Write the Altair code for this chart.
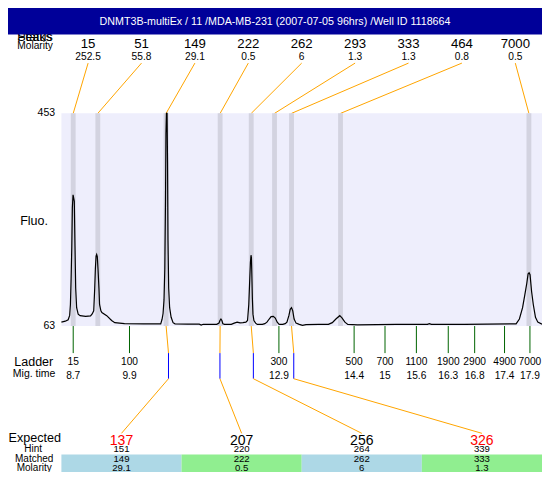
import altair as alt
import pandas as pd

# ---------------- data ----------------
title_text = "DNMT3B-multiEx / 11 /MDA-MB-231 (2007-07-05 96hrs) /Well ID 1118664"

peak_sizes = [15, 51, 149, 222, 262, 293, 333, 464, 7000]
peak_molarity = [252.5, 55.8, 29.1, 0.5, 6, 1.3, 1.3, 0.8, 0.5]
peak_times = [8.740, 9.234, 10.605, 11.690, 12.314, 12.782, 13.123, 14.107, 17.889]

ladder_sizes = [15, 100, 300, 500, 700, 1100, 1900, 2900, 4900, 7000]
ladder_times = [8.74, 9.87, 12.87, 14.38, 15.0, 15.63, 16.27, 16.8, 17.4, 17.91]

expected_sizes = [137, 207, 256, 326]
expected_status = ["off", "ok", "ok", "off"]
hint_sizes = [151, 220, 264, 339]
hint_times = [10.653, 11.686, 12.357, 13.168]
matched_sizes = [149, 222, 262, 333]
matched_molarity = [29.1, 0.5, 6, 1.3]

trace_time = [8.503, 8.581, 8.639, 8.669, 8.684, 8.698, 8.712, 8.723, 8.737, 8.762,
              8.776, 8.790, 8.809, 8.840, 8.879, 8.990, 9.088, 9.121, 9.152, 9.172,
              9.185, 9.199, 9.211, 9.224, 9.238, 9.257, 9.269, 9.296, 9.316, 9.413,
              9.511, 9.575, 9.770, 10.160, 10.497, 10.524, 10.544, 10.563, 10.579, 10.593,
              10.602, 10.612, 10.624, 10.634, 10.643, 10.657, 10.676, 10.706, 10.745, 10.784,
              11.037, 11.271, 11.310, 11.349, 11.622, 11.667, 11.686, 11.706, 11.725, 11.745,
              11.778, 11.914, 11.973, 12.031, 12.090, 12.148, 12.207, 12.240, 12.265, 12.285,
              12.298, 12.310, 12.318, 12.324, 12.337, 12.349, 12.368, 12.402, 12.435, 12.538,
              12.587, 12.630, 12.675, 12.713, 12.758, 12.797, 12.836, 12.875, 12.947, 12.996,
              13.031, 13.070, 13.097, 13.123, 13.148, 13.175, 13.214, 13.279, 13.343, 13.415,
              13.669, 13.864, 13.942, 14.019, 14.092, 14.136, 14.195, 14.253, 14.448, 15.228,
              15.852, 15.891, 15.930, 16.593, 17.632, 17.698, 17.762, 17.807, 17.846, 17.873,
              17.893, 17.912, 17.943, 17.977, 18.021, 18.068, 18.152]
trace_fluo = [70.1, 71.9, 74.5, 82.5, 102.5, 149.9, 208.9, 279.8, 303.6, 291.7,
              208.9, 132.1, 96.7, 84.8, 82.0, 80.7, 81.6, 85.2, 90.8, 132.1,
              167.6, 191.2, 194.2, 190.1, 167.6, 132.1, 102.5, 90.8, 87.8, 82.0,
              73.1, 69.2, 67.4, 67.1, 67.1, 75.4, 86.0, 110.9, 167.6, 291.7,
              415.8, 453, 453, 362.6, 220.8, 132.1, 96.7, 79.0, 69.2, 67.1,
              66.5, 66.5, 64.8, 66.2, 66.0, 68.3, 73.1, 75.9, 73.1, 67.1,
              66.0, 66.0, 68.3, 70.1, 68.7, 69.2, 70.1, 73.1, 102.5, 149.9,
              179.5, 192.9, 188.3, 167.6, 114.4, 84.8, 73.1, 68.3, 66.0, 66.0,
              67.4, 70.1, 75.9, 80.2, 80.7, 77.7, 70.1, 66.0, 66.0, 67.4,
              70.1, 82.0, 93.7, 96.7, 90.8, 75.9, 68.3, 66.0, 64.2, 65.7,
              66.0, 66.0, 69.2, 76.3, 82.0, 78.1, 70.1, 66.0, 65.1, 66.0,
              66.0, 67.4, 66.0, 66.0, 67.1, 75.9, 96.7, 120.3, 141.0, 158.7,
              160.5, 157.0, 126.3, 102.5, 79.0, 70.1, 66.5]

fluo_ticks = [63, 453]
T_LEFT, T_RIGHT = 8.503, 18.152

# ---------------- layout ----------------
W, H = 534, 464
SX, SY = W / 550.0, H / 480.0
def px(p):
    return p * SX
def py(p):
    return p * SY

REG = "Liberation Sans, Arial, sans-serif"

span = T_RIGHT - T_LEFT
T0 = T_LEFT - 55.0 / 495.0 * span
xs = alt.Scale(domain=[T0, T_RIGHT], nice=False, zero=False)
ys = alt.Scale(domain=[63, 453], range=[py(329), py(109)], nice=False, zero=False)

def X(f):
    return alt.X(f, type="quantitative", scale=xs, axis=None)

n_p = len(peak_sizes)
peaks = pd.DataFrame({
    "size": peak_sizes, "mol": peak_molarity, "t": peak_times,
    "slot_t": [T_LEFT + (i + 0.5) * span / n_p for i in range(n_p)],
})
ladder = pd.DataFrame({"size": ladder_sizes, "t": ladder_times})
n_e = len(expected_sizes)
peak_lookup = dict(zip(peak_sizes, peak_times))
expd = pd.DataFrame({
    "exp": expected_sizes, "status": expected_status, "hint": hint_sizes,
    "hint_t": hint_times, "matched": matched_sizes, "mol": matched_molarity,
    "peak_t": [peak_lookup[m] for m in matched_sizes],
    "col_t": [T_LEFT + (j + 0.5) * span / n_e for j in range(n_e)],
    "col_l": [T_LEFT + j * span / n_e for j in range(n_e)],
    "col_r": [T_LEFT + (j + 1) * span / n_e for j in range(n_e)],
    "par": ["a" if j % 2 == 0 else "b" for j in range(n_e)],
})
trace = pd.DataFrame({"t": trace_time, "f": trace_fluo})
one = pd.DataFrame({"k": [0]})
frame = pd.DataFrame({"t0": [T_LEFT], "t1": [T_RIGHT], "f0": [63], "f1": [453]})

def label(text, x, y, size, align="left", baseline="alphabetic", color="black"):
    return alt.Chart(pd.DataFrame({"s": [text]})).mark_text(
        font=REG, fontSize=size, align=align, baseline=baseline, color=color
    ).encode(x=alt.value(px(x)), y=alt.value(py(y)), text="s:N")

def row_text(df, xf, y, field, fmt, size, **kw):
    return alt.Chart(df).mark_text(font=REG, fontSize=size, baseline="alphabetic", **kw).encode(
        x=X(xf), y=alt.value(py(y)), text=alt.Text(field, type="quantitative", format=fmt))

layers = []
# garbled header (overlapping words, partly under the title bar)
layers.append(label("Peaks", 9.5, 34.5, 12.5))
layers.append(label("Status", 9.5, 34.5, 12.5))
# title bar
layers.append(alt.Chart(one).mark_rect(color="#000099").encode(
    x=alt.value(0), x2=alt.value(W), y=alt.value(0), y2=alt.value(py(27.5))))
layers.append(label(title_text, 275, 17.5, 10.7, align="center", color="white"))
# top peak labels
layers.append(row_text(peaks, "slot_t", 41.4, "size", "d", 13.2))
layers.append(row_text(peaks, "slot_t", 53.3, "mol", ".1~f", 10.2))
layers.append(label("Molarity", 9.5, 42.5, 10.2))
# plot background
layers.append(alt.Chart(frame).mark_rect(color="#EEEEFC").encode(
    x=X("t0"), x2="t1", y=alt.Y("f1:Q", scale=ys, axis=None), y2="f0"))
# connectors top
layers.append(alt.Chart(peaks).mark_rule(color="orange", strokeWidth=1).encode(
    x=X("slot_t"), x2="t", y=alt.value(py(57)), y2=alt.value(py(109))))
# peak bands
layers.append(alt.Chart(peaks).mark_rule(color="#D3D3E0", strokeWidth=px(5)).encode(
    x=X("t"), y=alt.value(py(109)), y2=alt.value(py(329))))
# trace
layers.append(alt.Chart(trace).mark_line(color="black", strokeWidth=1.2).encode(
    x=X("t"), y=alt.Y("f:Q", scale=ys, axis=None)))
# y labels
layers.append(alt.Chart(pd.DataFrame({"v": fluo_ticks})).mark_text(
    font=REG, fontSize=10.5, align="right", baseline="middle").encode(
    x=alt.value(px(48.5)), y=alt.Y("v:Q", scale=ys, axis=None), text="v:N"))
layers.append(label("Fluo.", 12.5, 220, 12.5, baseline="middle"))
# ladder
layers.append(alt.Chart(ladder).mark_rule(color="#006400", strokeWidth=1).encode(
    x=X("t"), y=alt.value(py(329)), y2=alt.value(py(357))))
layers.append(row_text(ladder, "t", 369.5, "size", "d", 10.2))
layers.append(row_text(ladder, "t", 383.5, "t", ".1~f", 10.2))
layers.append(label("Ladder", 6.5, 370, 12.5))
layers.append(label("Mig. time", 5, 381.5, 10.5))
# matched connectors
layers.append(alt.Chart(expd).mark_rule(color="orange", strokeWidth=1).encode(
    x=X("peak_t"), x2="hint_t", y=alt.value(py(329)), y2=alt.value(py(357))))
layers.append(alt.Chart(expd).mark_rule(color="blue", strokeWidth=1).encode(
    x=X("hint_t"), y=alt.value(py(357)), y2=alt.value(py(383.5))))
layers.append(alt.Chart(expd).mark_rule(color="orange", strokeWidth=1).encode(
    x=X("hint_t"), x2="col_t", y=alt.value(py(383.5)), y2=alt.value(py(440))))
# expected table
layers.append(alt.Chart(expd).mark_rect().encode(
    x=X("col_l"), x2="col_r", y=alt.value(py(462)), y2=alt.value(H),
    fill=alt.Fill("par:N", scale=alt.Scale(domain=["a", "b"], range=["#ADD8E6", "#90EE90"]), legend=None)))
layers.append(alt.Chart(expd).mark_text(font=REG, fontSize=14, baseline="alphabetic").encode(
    x=X("col_t"), y=alt.value(py(452.3)), text=alt.Text("exp:Q", format="d"),
    color=alt.Color("status:N", scale=alt.Scale(domain=["off", "ok"], range=["red", "black"]), legend=None)))
layers.append(row_text(expd, "col_t", 459.8, "hint", "d", 9.6))
layers.append(row_text(expd, "col_t", 469.6, "matched", "d", 9.6))
layers.append(row_text(expd, "col_t", 478.8, "mol", ".1~f", 9.6))
layers.append(label("Expected", 0.5, 449, 12.6))
layers.append(label("Hint", 26, 459.6, 10, align="center"))
layers.append(label("Matched", 27, 469.4, 10, align="center"))
layers.append(label("Molarity", 27, 478.8, 10, align="center"))

chart = alt.layer(*layers).properties(
    width=W, height=H, padding=0, autosize=alt.AutoSizeParams(type="none")
).configure_view(strokeWidth=0)

chart.save("out.html", embed_options={"renderer": "svg", "actions": False})
